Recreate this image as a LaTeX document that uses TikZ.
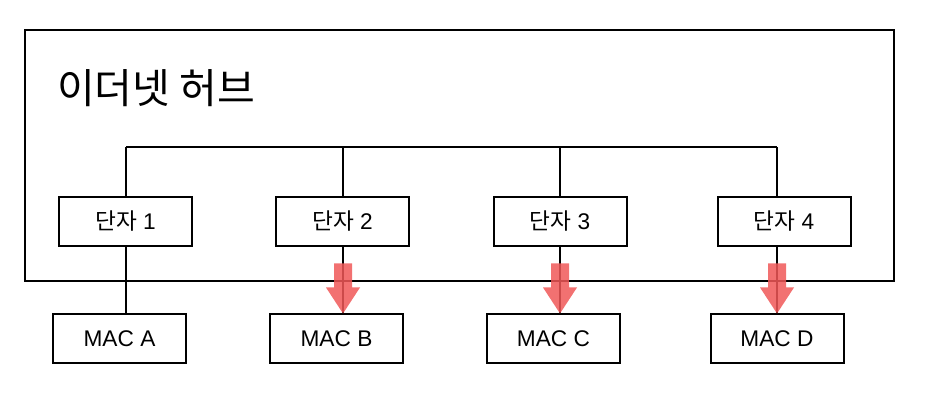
\documentclass[tikz,border=0pt]{standalone}
\usepackage{fontspec}
\setmainfont{Liberation Sans}
\newfontfamily\kr{Noto Sans CJK KR}
\usetikzlibrary{calc}
\definecolor{flowred}{RGB}{240,88,88}
\tikzset{
  box/.style={draw, fill=white, minimum width=99.75pt, minimum height=36.75pt, inner sep=0pt, font=\fontsize{17}{20}\selectfont},
}
\begin{document}
\begin{tikzpicture}[x=0.75pt,y=-0.75pt,line width=1.5pt]
\useasboundingbox (0,0) rectangle (928,402);

% Hub frame and title
\draw (25,30) rectangle (894,281);
\node[anchor=west,inner sep=0pt,font=\kr\fontsize{30.8}{34}\selectfont] (title) at (56,88) {이더넷 허브};

% Ports
\foreach \i/\x in {1/125.5,2/342.5,3/560,4/784}
  \node[box] (port\i) at (\x,221.5) {{\kr 단자} \i};

% Taps on the bus
\foreach \i/\x in {1/126,2/343,3/560,4/777}
  \coordinate (tap\i) at (\x,147.5);

% Stations
\foreach \i/\x/\n in {1/119.5/A,2/336.5/B,3/553.5/C,4/777/D}
  \node[box] (mac\i) at (\x,339) {MAC \n};

% Bus and links
\draw (tap1) -- (tap4);
\foreach \i in {1,...,4}
  \draw (tap\i) -- (tap\i |- port\i.north)
        (tap\i |- port\i.south) -- (tap\i |- mac\i.north);

% Frames going out
\foreach \i in {2,3,4}
  \fill[flowred, opacity=0.85] ($(tap\i |- mac\i.north)+(-9,-50)$) -- ++(18,0) -- ++(0,24) -- ++(8,0)
    -- (tap\i |- mac\i.north) -- ++(-17,-26) -- ++(8,0) -- cycle;
\end{tikzpicture}
\end{document}
